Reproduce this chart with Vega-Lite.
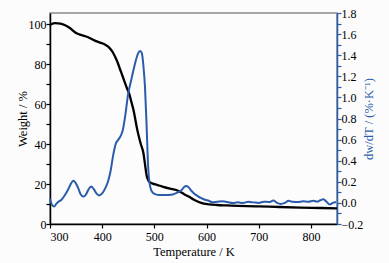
{
  "$schema": "https://vega.github.io/schema/vega-lite/v6.json",
  "width": 287,
  "height": 211,
  "autosize": "none",
  "padding": {"left": 50, "top": 13, "right": 52, "bottom": 39},
  "background": "#fcfcfc",
  "config": {
    "view": {"stroke": "#8a8a8a", "strokeWidth": 1.5},
    "font": "Liberation Serif",
    "axis": {
      "labelFont": "Liberation Serif",
      "titleFont": "Liberation Serif",
      "labelFontSize": 12,
      "titleFontSize": 12.5,
      "titleFontWeight": "normal",
      "labelColor": "black",
      "titleColor": "black",
      "grid": false,
      "domainWidth": 1.5,
      "ticks": true,
      "tickWidth": 1.2,
      "zindex": 2
    }
  },
  "datasets": {
    "tg": [
      {"T": 300, "W": 99.3}, {"T": 303, "W": 100}, {"T": 310, "W": 100.4}, {"T": 320, "W": 100.2},
      {"T": 328, "W": 99.5}, {"T": 338, "W": 98}, {"T": 350, "W": 95.5}, {"T": 360, "W": 94.5},
      {"T": 372, "W": 93.5}, {"T": 385, "W": 91.8}, {"T": 396, "W": 90.7}, {"T": 405, "W": 89.8},
      {"T": 415, "W": 87.8}, {"T": 420, "W": 86}, {"T": 425, "W": 83.5}, {"T": 430, "W": 80.5},
      {"T": 434, "W": 77.5}, {"T": 439, "W": 74}, {"T": 444, "W": 70.3}, {"T": 448, "W": 67.5},
      {"T": 452, "W": 65}, {"T": 456, "W": 61}, {"T": 460, "W": 57}, {"T": 463, "W": 53},
      {"T": 466, "W": 48.7}, {"T": 470, "W": 44}, {"T": 474, "W": 40}, {"T": 479, "W": 35.5},
      {"T": 482, "W": 30}, {"T": 485, "W": 24.5}, {"T": 488, "W": 22}, {"T": 492, "W": 20.8},
      {"T": 497, "W": 20.2}, {"T": 505, "W": 19.6}, {"T": 517, "W": 18.6}, {"T": 530, "W": 17.7},
      {"T": 542, "W": 17}, {"T": 550, "W": 16}, {"T": 558, "W": 14.8}, {"T": 566, "W": 13.7},
      {"T": 575, "W": 12.3}, {"T": 585, "W": 11}, {"T": 595, "W": 10.2}, {"T": 605, "W": 9.8},
      {"T": 620, "W": 9.5}, {"T": 640, "W": 9.3}, {"T": 660, "W": 9.1}, {"T": 700, "W": 8.8},
      {"T": 740, "W": 8.5}, {"T": 780, "W": 8.2}, {"T": 820, "W": 8.0}, {"T": 850, "W": 7.8}
    ],
    "dtg": [
      {"T": 300, "v": 0.04}, {"T": 304, "v": -0.02}, {"T": 308, "v": -0.035}, {"T": 312, "v": -0.01},
      {"T": 316, "v": 0.01}, {"T": 322, "v": 0.03}, {"T": 328, "v": 0.07}, {"T": 335, "v": 0.13},
      {"T": 341, "v": 0.19}, {"T": 345, "v": 0.21}, {"T": 349, "v": 0.19}, {"T": 354, "v": 0.14},
      {"T": 359, "v": 0.08}, {"T": 364, "v": 0.06}, {"T": 369, "v": 0.08}, {"T": 374, "v": 0.13},
      {"T": 379, "v": 0.155}, {"T": 384, "v": 0.13}, {"T": 389, "v": 0.09}, {"T": 394, "v": 0.07},
      {"T": 400, "v": 0.09}, {"T": 406, "v": 0.14}, {"T": 411, "v": 0.2}, {"T": 416, "v": 0.3},
      {"T": 421, "v": 0.45}, {"T": 426, "v": 0.56}, {"T": 431, "v": 0.6}, {"T": 436, "v": 0.64},
      {"T": 440, "v": 0.7}, {"T": 444, "v": 0.82}, {"T": 450, "v": 1.04}, {"T": 455, "v": 1.15},
      {"T": 460, "v": 1.26}, {"T": 465, "v": 1.36}, {"T": 469, "v": 1.42}, {"T": 473, "v": 1.44},
      {"T": 476, "v": 1.42}, {"T": 479, "v": 1.3}, {"T": 482, "v": 1.1}, {"T": 485, "v": 0.75},
      {"T": 488, "v": 0.35}, {"T": 491, "v": 0.18}, {"T": 495, "v": 0.11}, {"T": 500, "v": 0.085},
      {"T": 508, "v": 0.075}, {"T": 520, "v": 0.075}, {"T": 535, "v": 0.08}, {"T": 545, "v": 0.1},
      {"T": 552, "v": 0.12}, {"T": 557, "v": 0.15}, {"T": 561, "v": 0.16}, {"T": 565, "v": 0.15},
      {"T": 570, "v": 0.12}, {"T": 576, "v": 0.09}, {"T": 583, "v": 0.065}, {"T": 590, "v": 0.045},
      {"T": 597, "v": 0.03}, {"T": 604, "v": 0.02}, {"T": 612, "v": 0.005}, {"T": 620, "v": 0.012},
      {"T": 630, "v": 0.015}, {"T": 640, "v": 0.008}, {"T": 650, "v": 0.0}, {"T": 660, "v": 0.005},
      {"T": 670, "v": 0.0}, {"T": 680, "v": 0.01}, {"T": 690, "v": 0.005}, {"T": 700, "v": 0.0},
      {"T": 710, "v": 0.012}, {"T": 720, "v": 0.008}, {"T": 728, "v": 0.022}, {"T": 735, "v": 0.0},
      {"T": 742, "v": -0.01}, {"T": 750, "v": 0.0}, {"T": 757, "v": 0.02}, {"T": 765, "v": 0.01},
      {"T": 775, "v": 0.008}, {"T": 785, "v": 0.015}, {"T": 795, "v": 0.01}, {"T": 805, "v": 0.02},
      {"T": 812, "v": 0.012}, {"T": 818, "v": 0.025}, {"T": 824, "v": 0.035}, {"T": 830, "v": 0.01},
      {"T": 836, "v": -0.015}, {"T": 842, "v": 0.0}, {"T": 848, "v": 0.008}
    ]
  },
  "layer": [
    {
      "data": {"name": "tg"},
      "mark": {"type": "line", "color": "black", "strokeWidth": 2.3, "interpolate": "monotone"},
      "encoding": {
        "x": {
          "field": "T", "type": "quantitative",
          "scale": {"domain": [300, 850], "nice": false},
          "axis": {
            "title": "Temperature / K",
            "values": [300, 350, 400, 450, 500, 550, 600, 650, 700, 750, 800],
            "labelExpr": "datum.value % 100 == 0 ? datum.label : ''",
            "format": "d",
            "tickSize": 4,
            "tickColor": "black",
            "domainColor": "black",
            "labelPadding": 3,
            "titlePadding": 3
          }
        },
        "y": {
          "field": "W", "type": "quantitative",
          "scale": {"domain": [0, 105.5], "nice": false, "zero": false},
          "axis": {
            "title": "Weight / %",
            "orient": "left",
            "values": [0, 10, 20, 30, 40, 50, 60, 70, 80, 90, 100],
            "labelExpr": "datum.value % 20 == 0 ? datum.label : ''",
            "tickSize": 4,
            "tickColor": "black",
            "domainColor": "black",
            "labelPadding": 0,
            "titlePadding": -1
          }
        }
      }
    },
    {
      "data": {"name": "dtg"},
      "mark": {"type": "line", "color": "#2b5cab", "strokeWidth": 2, "interpolate": "monotone"},
      "encoding": {
        "x": {"field": "T", "type": "quantitative"},
        "y": {
          "field": "v", "type": "quantitative",
          "scale": {"domain": [-0.2, 1.8], "nice": false, "zero": false},
          "axis": {
            "title": "dw/dT / (%·K⁻¹)",
            "orient": "right",
            "titleAngle": 270,
            "titleColor": "#2b5cab",
            "values": [-0.2, -0.1, 0, 0.1, 0.2, 0.3, 0.4, 0.5, 0.6, 0.7, 0.8, 0.9, 1.0, 1.1, 1.2, 1.3, 1.4, 1.5, 1.6, 1.7, 1.8],
            "format": ".1f",
            "labelExpr": "round(datum.value * 10) % 2 == 0 ? datum.label : ''",
            "tickSize": 4,
            "tickColor": "#2b5cab",
            "domainColor": "#2b5cab",
            "labelPadding": 0,
            "titlePadding": 13
          }
        }
      }
    }
  ],
  "resolve": {"scale": {"y": "independent"}}
}
